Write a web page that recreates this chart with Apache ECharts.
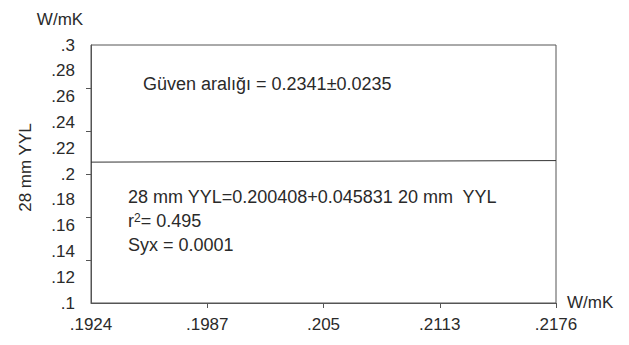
<!DOCTYPE html>
<html>
<head>
<meta charset="utf-8">
<script src="https://cdn.jsdelivr.net/npm/echarts@6/dist/echarts.min.js"></script>
<style>html,body{margin:0;padding:0;background:#fff}#c{width:629px;height:345px}</style>
</head>
<body>
<div id="c"></div>
<script>
// Data
const xMin = 0.1924, xMax = 0.2176;
const yMin = 0.1, yMax = 0.3;
const xTickLabelValues = [0.1924, 0.1987, 0.205, 0.2113, 0.2176];
const xTickLabels = ['.1924', '.1987', '.205', '.2113', '.2176'];
const xTickMarkValues = [0.1987, 0.205, 0.2113, 0.2176];
const yTickLabelValues = [0.1, 0.12, 0.14, 0.16, 0.18, 0.2, 0.22, 0.24, 0.26, 0.28, 0.3];
const yTickLabels = ['.1', '.12', '.14', '.16', '.18', '.2', '.22', '.24', '.26', '.28', '.3'];
const yTickMarkValues = [0.13333, 0.16667, 0.2, 0.23333, 0.26667];
const lineX = [0.1924, 0.2176];
const lineY = [0.2092, 0.2104];

const FONT = '"Liberation Sans", Arial, sans-serif';
const FS = 17;
const AFS = 18;
const TXT = '#2a2a2a';

function fmt(list, vals) {
  return function (v) {
    for (let i = 0; i < vals.length; i++) if (Math.abs(vals[i] - v) < 1e-6) return list[i];
    return '';
  };
}

const chart = echarts.init(document.getElementById('c'), null, { renderer: 'svg' });
chart.setOption({
  animation: false,
  backgroundColor: '#fff',
  grid: { left: 91, top: 45, right: 73, bottom: 42, show: true, borderColor: '#555', borderWidth: 1, backgroundColor: 'transparent' },
  xAxis: {
    type: 'value', min: xMin, max: xMax,
    name: 'W/mK', nameLocation: 'end', nameGap: 11,
    nameTextStyle: { fontFamily: FONT, fontSize: FS, color: TXT, verticalAlign: 'bottom', padding: [0, 0, -8, 0] },
    axisLine: { show: true, lineStyle: { color: '#555', width: 1 } },
    axisTick: { show: true, length: 5, customValues: xTickMarkValues, lineStyle: { color: '#555' } },
    axisLabel: { show: true, customValues: xTickLabelValues, formatter: fmt(xTickLabels, xTickLabelValues), margin: 13, fontFamily: FONT, fontSize: FS, color: TXT },
    splitLine: { show: false }
  },
  yAxis: {
    type: 'value', min: yMin, max: yMax,
    name: 'W/mK', nameLocation: 'end', nameGap: 17,
    nameTextStyle: { fontFamily: FONT, fontSize: FS, color: TXT, align: 'center', padding: [0, 0, 0, -62] },
    axisLine: { show: true, lineStyle: { color: '#555', width: 1 } },
    axisTick: { show: true, length: 5, customValues: yTickMarkValues, lineStyle: { color: '#555' } },
    axisLabel: { show: true, customValues: yTickLabelValues, formatter: fmt(yTickLabels, yTickLabelValues), margin: 16, fontFamily: FONT, fontSize: FS, color: TXT },
    splitLine: { show: false }
  },
  graphic: [
    { type: 'text', left: 17, top: 123, rotation: Math.PI / 2, originX: 0, originY: 0,
      style: { text: '28 mm YYL', font: FS + 'px ' + FONT, fill: TXT, align: 'center', verticalAlign: 'middle' } },
    { type: 'text', left: 143, top: 75, style: { text: 'Güven aralığı = 0.2341±0.0235', font: AFS + 'px ' + FONT, fill: TXT } },
    { type: 'text', left: 128, top: 188, style: { text: '28 mm YYL=0.200408+0.045831 20 mm  YYL', font: AFS + 'px ' + FONT, fill: TXT } },
    { type: 'text', left: 128, top: 212, style: { text: 'r{s|2}= 0.495', font: AFS + 'px ' + FONT, fill: TXT,
      rich: { s: { fontSize: 12, fontFamily: FONT, verticalAlign: 'top', padding: [0, 0, 6, 0] } } } },
    { type: 'text', left: 128, top: 236, style: { text: 'Syx = 0.0001', font: AFS + 'px ' + FONT, fill: TXT } }
  ],
  series: [{
    type: 'line', data: lineX.map((x, i) => [x, lineY[i]]),
    symbol: 'none', lineStyle: { color: '#333', width: 1 }, silent: true
  }]
});
</script>
</body>
</html>
